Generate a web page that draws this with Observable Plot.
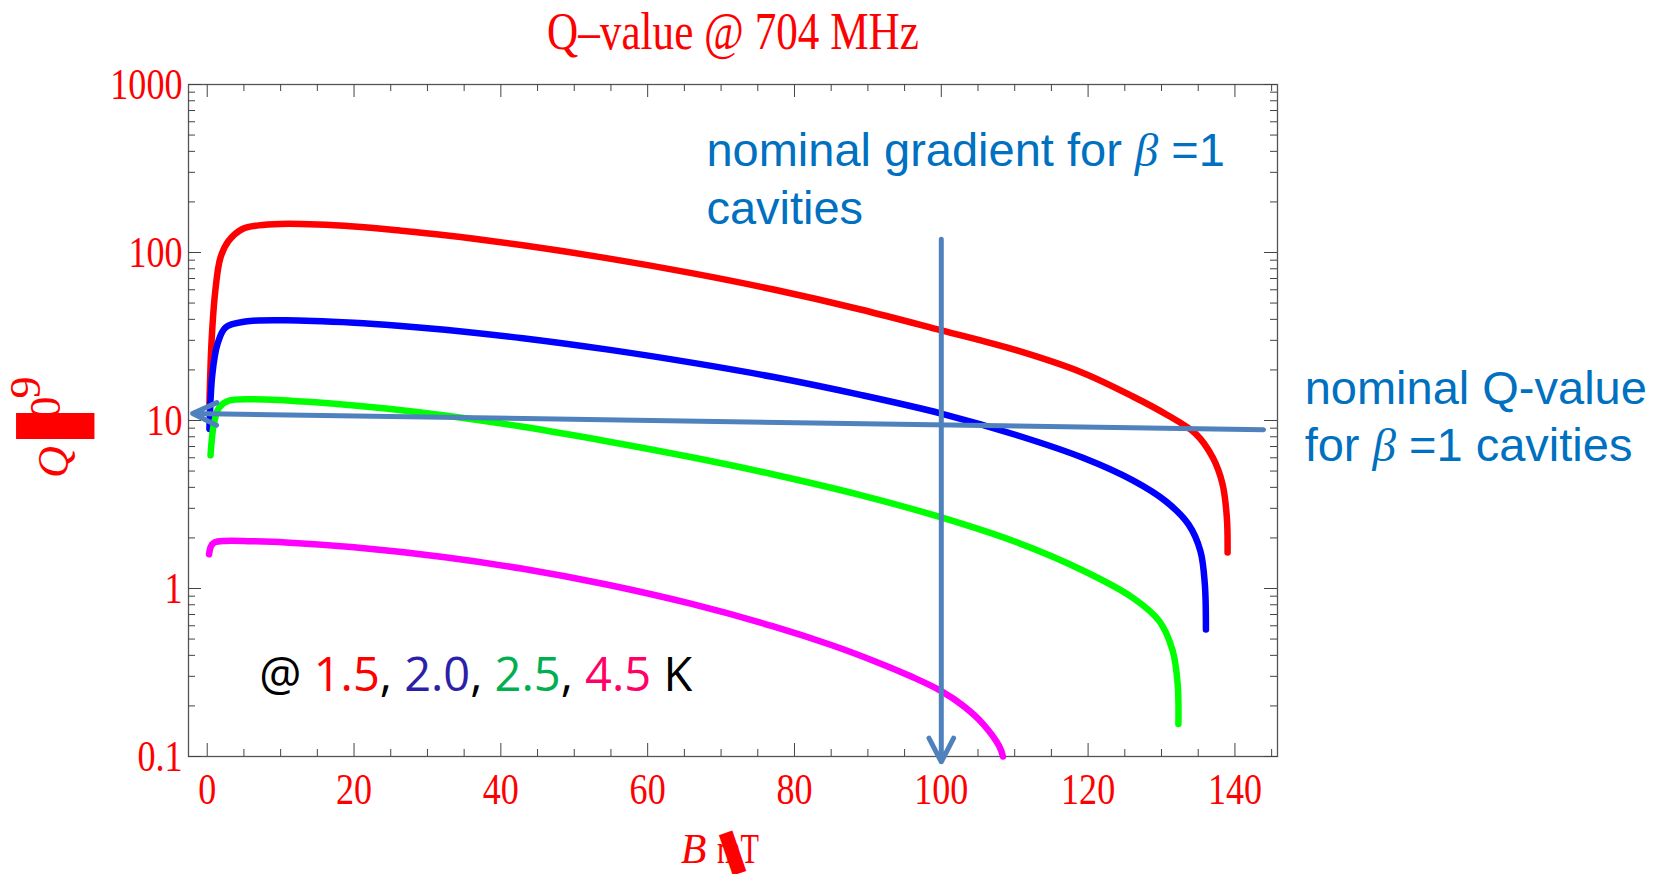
<!DOCTYPE html>
<html><head><meta charset="utf-8">
<script src="https://cdn.jsdelivr.net/npm/d3@7"></script>
<script src="https://cdn.jsdelivr.net/npm/@observablehq/plot@0.6"></script>
<style>
html,body{margin:0;padding:0;background:#fff;overflow:hidden}
</style></head><body><div id="chart"></div>
<script>
// ---- data ----
const titleText = "Q\u2013value @ 704 MHz";
const xTicks = [0, 20, 40, 60, 80, 100, 120, 140];
const xMinor = [5, 10, 15, 25, 30, 35, 45, 50, 55, 65, 70, 75, 85, 90, 95, 105, 110, 115, 125, 130, 135, 145];
const yTicks = [0.1, 1, 10, 100, 1000];
const yTickLabels = ["0.1", "1", "10", "100", "1000"];
const yMinor = [0.2, 0.3, 0.4, 0.5, 0.6, 0.7, 0.8, 0.9, 2, 3, 4, 5, 6, 7, 8, 9, 20, 30, 40, 50, 60, 70, 80, 90, 200, 300, 400, 500, 600, 700, 800, 900];

// 1.5 K
const redB = [0.3, 0.6, 1.1, 1.8, 2.9, 4.8, 7, 10, 15, 20, 26, 32.4, 43, 54.4, 66, 77, 89, 100, 110.2, 119.3, 126.1, 130.6, 134.7, 137.0, 138.3, 138.9, 139.0];
const redQ = [12.5, 30, 59, 93, 117, 138, 145, 148, 147, 143, 135.5, 126.8, 110.4, 92.6, 75.4, 60.4, 45.8, 34.4, 26.2, 19.2, 13.9, 10.9, 8.3, 6.0, 4.2, 2.65, 1.64];
// 2.0 K
const blueB = [0.3, 0.7, 1.4, 2.5, 5.2, 10.7, 20, 26, 32.4, 43, 54.4, 66, 77, 89, 100, 110.2, 119.3, 126.1, 130.6, 133.7, 135.3, 135.9, 136.05];
const blueQ = [8.9, 18.9, 28.5, 35.8, 38.8, 39.5, 38.2, 36.7, 34.7, 30.9, 26.5, 22.1, 18.2, 14.2, 11.0, 8.2, 6.0, 4.4, 3.3, 2.4, 1.67, 1.06, 0.57];
// 2.5 K
const greenB = [0.45, 0.9, 1.6, 2.9, 6.1, 15.2, 25, 32.4, 43, 54.4, 66, 77, 89, 100, 110.2, 119.3, 126.1, 129.7, 131.5, 132.2, 132.3];
const greenQ = [6.2, 9.5, 11.9, 13.1, 13.4, 12.8, 11.7, 10.7, 9.17, 7.53, 6.04, 4.79, 3.6, 2.65, 1.89, 1.28, 0.88, 0.64, 0.43, 0.27, 0.156];
// 4.5 K
const magentaB = [0.25, 0.5, 1.0, 2.5, 6, 10.7, 20, 32.4, 43, 54.4, 66, 77, 85, 91, 96, 100, 103, 105.7, 107.9, 108.4];
const magentaQ = [1.6, 1.78, 1.88, 1.92, 1.91, 1.88, 1.76, 1.535, 1.31, 1.056, 0.809, 0.597, 0.461, 0.368, 0.298, 0.245, 0.2, 0.156, 0.115, 0.1];

const seriesNames = ["1.5 K", "2.0 K", "2.5 K", "4.5 K"];
const seriesColors = ["#ff0000", "#0000ff", "#00ff00", "#ff00ff"];
const seriesB = [redB, blueB, greenB, magentaB];
const seriesQ = [redQ, blueQ, greenQ, magentaQ];

// annotations (data units)
const gradientArrow = [{B1: 100, Q1: 120, B2: 100, Q2: 0.093}];
const qArrow = [{B1: 143.9, Q1: 8.8, B2: -2.0, Q2: 11.0}];
const gradientNote = ["nominal gradient for \u03b2 =1", "cavities"];
const qNote = ["nominal Q-value", "for \u03b2 =1 cavities"];
const legendParts = [
  {t: "@ ", c: "#000000"}, {t: "1.5", c: "#ff0000"}, {t: ", ", c: "#000000"},
  {t: "2.0", c: "#2e1fa8"}, {t: ", ", c: "#000000"}, {t: "2.5", c: "#00b050"},
  {t: ", ", c: "#000000"}, {t: "4.5", c: "#ff0066"}, {t: " K", c: "#000000"}
];
const legendText = legendParts.map(p => p.t).join("");
const xLabelParts = ["B", "mT"];
const yLabelParts = ["Q", "0", "9"];
const glitchGlyph = "\u258c";

// ---- layout ----
const W = 1660, H = 874, mL = 188, mR = 383, mT = 84, mB = 118;
const FW = W - mL - mR, FH = H - mT - mB;
const serif = "'Liberation Serif','Times New Roman',serif";
const sans = "'Liberation Sans',Arial,sans-serif";
const tickColor = "#444";

const rows = seriesNames.map((n, s) => seriesB[s].map((b, i) => ({B: b, Q: seriesQ[s][i], T: n})));

const plot = Plot.plot({
  width: W, height: H,
  marginLeft: mL, marginRight: mR, marginTop: mT, marginBottom: mB,
  style: {fontFamily: serif, background: "white", overflow: "visible"},
  x: {type: "linear", domain: [-2.55, 145.8]},
  y: {type: "log", domain: [0.1, 1000]},
  marks: [
    Plot.frame({stroke: "#555", strokeWidth: 1.3}),
    Plot.tickX(xTicks, {x: d => d, stroke: tickColor, insetTop: FH - 13}),
    Plot.tickX(xMinor, {x: d => d, stroke: tickColor, insetTop: FH - 7}),
    Plot.tickX(xTicks, {x: d => d, stroke: tickColor, insetBottom: FH - 13}),
    Plot.tickX(xMinor, {x: d => d, stroke: tickColor, insetBottom: FH - 7}),
    Plot.tickY(yTicks, {y: d => d, stroke: tickColor, insetRight: FW - 13}),
    Plot.tickY(yMinor, {y: d => d, stroke: tickColor, insetRight: FW - 7}),
    Plot.tickY(yTicks, {y: d => d, stroke: tickColor, insetLeft: FW - 13}),
    Plot.tickY(yMinor, {y: d => d, stroke: tickColor, insetLeft: FW - 7}),
    Plot.axisX({ticks: xTicks, tickFormat: d => String(d), tickSize: 0, tickPadding: 16, fontSize: 44, color: "#ff0000", label: null}),
    Plot.axisY({ticks: yTicks, tickFormat: d => yTickLabels[yTicks.indexOf(d)], tickSize: 0, tickPadding: 6, fontSize: 44, color: "#ff0000", label: null}),
    ...rows.map((r, s) => Plot.line(r, {x: "B", y: "Q", stroke: seriesColors[s], strokeWidth: 6.5, curve: "catmull-rom"})),
    Plot.arrow(gradientArrow, {x1: "B1", y1: "Q1", x2: "B2", y2: "Q2", stroke: "#4f81bd", strokeWidth: 5, headAngle: 55, headLength: 8}),
    Plot.arrow(qArrow, {x1: "B1", y1: "Q1", x2: "B2", y2: "Q2", stroke: "#4f81bd", strokeWidth: 5, headAngle: 50, headLength: 8}),
    // title
    Plot.text([titleText], {text: d => d, frameAnchor: "top", dy: -52.6, fontSize: 52, fill: "#ff0000", lineAnchor: "middle"}),
    // annotations
    Plot.text([gradientNote[0]], {text: d => d, x: 68, y: 403, textAnchor: "start", lineAnchor: "middle", fontSize: 47, fontFamily: sans, fill: "#0070c0"}),
    Plot.text([gradientNote[1]], {text: d => d, x: 68, y: 181, textAnchor: "start", lineAnchor: "middle", fontSize: 47, fontFamily: sans, fill: "#0070c0"}),
    Plot.text([qNote[0]], {text: d => d, x: 149.5, y: 15.4, textAnchor: "start", lineAnchor: "middle", fontSize: 47, fontFamily: sans, fill: "#0070c0"}),
    Plot.text([qNote[1]], {text: d => d, x: 149.5, y: 7.05, textAnchor: "start", lineAnchor: "middle", fontSize: 47, fontFamily: sans, fill: "#0070c0"}),
    Plot.text([legendText], {text: d => d, x: 7.1, y: 0.302, textAnchor: "start", lineAnchor: "middle", fontSize: 47, fontFamily: "'Open Sans',sans-serif", fill: "#000"}),
    // x label
    Plot.text([xLabelParts[0]], {text: d => d, frameAnchor: "bottom", dx: -39.5, dy: 92.6, fontSize: 42, fontStyle: "italic", fill: "#ff0000", lineAnchor: "middle"}),
    Plot.text([xLabelParts[1]], {text: d => d, frameAnchor: "bottom", dx: 5, dy: 92.6, fontSize: 42, fill: "#ff0000", lineAnchor: "middle"}),
    Plot.text([glitchGlyph], {text: d => d, frameAnchor: "bottom", dx: 6.5, dy: 95, rotate: -19, fontSize: 36, fontFamily: "'DejaVu Sans'", fill: "#ff0000", lineAnchor: "middle"}),
    // y label
    Plot.text([glitchGlyph], {text: d => d, frameAnchor: "left", dx: -132, dy: 17.7, rotate: -90, fontSize: 66, fontFamily: "'DejaVu Sans'", fill: "#ff0000", lineAnchor: "middle"}),
    Plot.text([yLabelParts[0]], {text: d => d, frameAnchor: "left", dx: -135, dy: 57.5, rotate: -90, fontSize: 44, fontStyle: "italic", fill: "#ff0000", lineAnchor: "middle"}),
    Plot.text([yLabelParts[1]], {text: d => d, frameAnchor: "left", dx: -143, dy: -2, rotate: -90, fontSize: 44, fill: "#ff0000", lineAnchor: "middle"}),
    Plot.text([yLabelParts[2]], {text: d => d, frameAnchor: "left", dx: -163, dy: -22, rotate: -90, fontSize: 44, fill: "#ff0000", lineAnchor: "middle"})
  ]
});
document.getElementById("chart").append(plot);

// ---- text post-processing (condensed serif, rich text) ----
const condense = (t, k) => {
  const w = t.getComputedTextLength();
  t.setAttribute("textLength", (w * k).toFixed(1));
  t.setAttribute("lengthAdjust", "spacingAndGlyphs");
};
plot.querySelectorAll('g[aria-label="x-axis tick label"] text, g[aria-label="y-axis tick label"] text').forEach(t => condense(t, 0.82));
plot.querySelectorAll("text").forEach(t => {
  const s = t.textContent;
  if (s === titleText) condense(t, 0.83);
  else if (s === "mT") condense(t, 0.72);
  if (s === legendText) {
    t.textContent = "";
    legendParts.forEach(p => {
      const ts = document.createElementNS("http://www.w3.org/2000/svg", "tspan");
      ts.textContent = p.t; ts.setAttribute("fill", p.c); t.appendChild(ts);
    });
  } else if (s.includes("\u03b2") && s.length > 1) {
    const [a, b] = s.split("\u03b2");
    t.textContent = "";
    const mk = (txt, italic) => {
      const ts = document.createElementNS("http://www.w3.org/2000/svg", "tspan");
      ts.textContent = txt;
      if (italic) { ts.setAttribute("font-style", "italic"); ts.setAttribute("font-family", serif); }
      t.appendChild(ts);
    };
    mk(a, false); mk("\u03b2", true); mk(b, false);
  }
});
</script></body></html>
